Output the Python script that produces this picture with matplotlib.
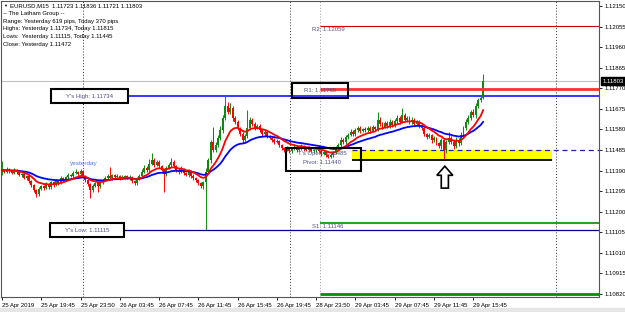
import numpy as np
import pandas as pd
import matplotlib
matplotlib.use("Agg")
import matplotlib.pyplot as plt
from matplotlib.patches import Rectangle, FancyArrow
from matplotlib.transforms import blended_transform_factory

plt.rcParams['font.family'] = ['Liberation Sans', 'DejaVu Sans']

# EURUSD M15, 25 Apr 15:45 -> 29 Apr 16:45
first_open = 1.11378
closes = [
    1.11392, 1.11383, 1.11397, 1.11387, 1.11378, 1.11392, 1.11383, 1.11369, 1.11374, 1.11355,
    1.11364, 1.11341, 1.11323, 1.11300, 1.11281, 1.11304, 1.11318, 1.11309, 1.11327, 1.11313,
    1.11337, 1.11323, 1.11341, 1.11332, 1.11355, 1.11346, 1.11360, 1.11369, 1.11364, 1.11378,
    1.11383, 1.11374, 1.11387, 1.11364, 1.11346, 1.11327, 1.11300, 1.11318, 1.11332, 1.11318,
    1.11337, 1.11346, 1.11355, 1.11364, 1.11355, 1.11369, 1.11360, 1.11364, 1.11355, 1.11360,
    1.11364, 1.11355, 1.11360, 1.11341, 1.11332, 1.11350, 1.11364, 1.11383, 1.11401, 1.11392,
    1.11420, 1.11438, 1.11415, 1.11429, 1.11410, 1.11392, 1.11374, 1.11401, 1.11415, 1.11429,
    1.11410, 1.11392, 1.11383, 1.11397, 1.11378, 1.11369, 1.11387, 1.11364, 1.11355, 1.11346,
    1.11332, 1.11318, 1.11337, 1.11383, 1.11438, 1.11521, 1.11484, 1.11507, 1.11540, 1.11577,
    1.11632, 1.11688, 1.11660, 1.11678, 1.11632, 1.11614, 1.11586, 1.11558, 1.11531, 1.11549,
    1.11586, 1.11623, 1.11605, 1.11586, 1.11595, 1.11577, 1.11558, 1.11568, 1.11549, 1.11540,
    1.11531, 1.11521, 1.11526, 1.11507, 1.11494, 1.11484, 1.11494, 1.11480, 1.11489, 1.11498,
    1.11484, 1.11494, 1.11503, 1.11489, 1.11484, 1.11494, 1.11480, 1.11484, 1.11485, 1.11480,
    1.11466, 1.11475, 1.11461, 1.11452, 1.11461, 1.11475, 1.11494, 1.11507, 1.11531, 1.11521,
    1.11544, 1.11554, 1.11568, 1.11558, 1.11577, 1.11586, 1.11572, 1.11581, 1.11577, 1.11586,
    1.11572, 1.11591, 1.11581, 1.11623, 1.11605, 1.11591, 1.11609, 1.11595, 1.11614, 1.11600,
    1.11618, 1.11632, 1.11614, 1.11646, 1.11623, 1.11632, 1.11614, 1.11623, 1.11605, 1.11614,
    1.11595, 1.11586, 1.11558, 1.11544, 1.11554, 1.11531, 1.11540, 1.11517, 1.11503, 1.11531,
    1.11484, 1.11521, 1.11540, 1.11521, 1.11503, 1.11531, 1.11517, 1.11554, 1.11586, 1.11614,
    1.11632, 1.11660, 1.11646, 1.11688, 1.11715, 1.11723, 1.11803,
]
# wick lengths in points above / below the body
upper_wick = [
    42, 5, 8, 4, 6, 9, 4, 6, 5, 8,
    6, 4, 5, 7, 3, 8, 6, 5, 9, 4,
    7, 5, 8, 6, 9, 5, 7, 10, 6, 8,
    12, 6, 9, 5, 7, 4, 6, 8, 5, 7,
    9, 6, 8, 8, 42, 7, 6, 9, 5, 8,
    7, 5, 9, 6, 4, 8, 10, 12, 15, 9,
    25, 33, 10, 12, 8, 6, 7, 10, 9, 18,
    8, 6, 9, 12, 7, 5, 9, 6, 8, 5,
    6, 4, 7, 20, 12, 10, 70, 15, 12, 20,
    15, 46, 20, 25, 12, 8, 10, 6, 8, 12,
    83, 15, 10, 8, 12, 9, 6, 10, 7, 5,
    6, 8, 9, 5, 7, 6, 8, 4, 6, 8,
    5, 7, 9, 6, 5, 8, 6, 7, 5, 9,
    6, 8, 5, 7, 9, 6, 10, 8, 12, 9,
    10, 8, 12, 7, 9, 10, 8, 7, 9, 11,
    8, 10, 7, 37, 12, 8, 10, 9, 12, 8,
    10, 15, 9, 32, 12, 10, 9, 12, 8, 10,
    8, 6, 7, 5, 9, 6, 8, 5, 7, 9,
    6, 10, 30, 10, 8, 12, 9, 14, 10, 12,
    15, 10, 12, 14, 10, 12, 33,
]
lower_wick = [
    8, 6, 5, 7, 4, 6, 8, 5, 7, 6,
    9, 7, 8, 10, 14, 8, 6, 9, 5, 7,
    6, 8, 5, 7, 6, 9, 5, 7, 6, 8,
    5, 7, 6, 9, 8, 10, 37, 8, 6, 28,
    10, 7, 6, 8, 5, 9, 6, 7, 8, 5,
    7, 6, 8, 9, 10, 7, 5, 8, 6, 9,
    7, 6, 8, 5, 9, 6, 84, 7, 6, 8,
    6, 9, 7, 5, 8, 6, 7, 9, 8, 10,
    8, 9, 12, 222, 10, 12, 8, 10, 7, 9,
    12, 8, 10, 9, 12, 8, 10, 9, 12, 8,
    10, 7, 9, 8, 6, 10, 8, 7, 9, 6,
    7, 8, 6, 9, 7, 8, 6, 9, 7, 5,
    8, 6, 7, 9, 5, 8, 6, 7, 9, 6,
    8, 5, 7, 6, 6, 8, 7, 6, 9, 8,
    7, 9, 6, 8, 10, 7, 9, 6, 8, 7,
    9, 6, 8, 10, 7, 9, 6, 8, 7, 9,
    8, 7, 9, 6, 10, 8, 7, 9, 6, 8,
    7, 9, 8, 10, 6, 12, 8, 10, 9, 12,
    39, 12, 10, 8, 12, 9, 14, 8, 10, 9,
    8, 10, 9, 12, 8, 10, 2,
]

time_labels = ["25 Apr 2019", "25 Apr 19:45", "25 Apr 23:50", "26 Apr 03:45", "26 Apr 07:45",
               "26 Apr 11:45", "26 Apr 15:45", "26 Apr 19:45", "28 Apr 23:50", "29 Apr 03:45",
               "29 Apr 07:45", "29 Apr 11:45", "29 Apr 15:45"]
price_ticks = [1.12150, 1.12055, 1.11960, 1.11865, 1.11770, 1.11675, 1.11580, 1.11485,
               1.11390, 1.11295, 1.11200, 1.11105, 1.11010, 1.10915, 1.10820]

y_high, y_low = 1.11734, 1.11115
r2, r1, s1, s2 = 1.12059, 1.11765, 1.11146, 1.10820
t_open, pivot = 1.11485, 1.11440
last_price = 1.11803

header = ["EURUSD,M15  1.11723 1.11836 1.11721 1.11803",
          "-- The Latham Group --",
          "Range: Yesterday 619 pips, Today 370 pips",
          "Highs: Yesterday 1.11734, Today 1.11815",
          "Lows:  Yesterday 1.11115, Today 1.11445",
          "Close: Yesterday 1.11472"]

closes = np.array(closes)
opens = np.r_[first_open, closes[:-1]]
highs = np.maximum(opens, closes) + np.array(upper_wick) * 1e-5
lows = np.minimum(opens, closes) - np.array(lower_wick) * 1e-5
idx = np.arange(len(closes))

fast = pd.Series(closes).ewm(span=11, adjust=False).mean()
slow = pd.Series(closes).ewm(span=27, adjust=False).mean()

fig = plt.figure(figsize=(6.25, 3.12), dpi=100)
ax = fig.add_axes([1 / 625, 15 / 312, 598 / 625, 296 / 312])
ax.set_xlim(-0.4, 243.2)
ax.set_ylim(1.10806, 1.12173)
FS = 4.3

# candles
up = closes >= opens
col = np.where(up, '#0f8a0f', '#ff0000')
ax.vlines(idx, lows, highs, colors=col, lw=0.7, zorder=3)
ax.bar(idx, np.maximum(np.abs(closes - opens), 1.5e-5), bottom=np.minimum(opens, closes),
       width=0.8, color=col, zorder=3)
ax.plot(idx, slow, color='#0000ff', lw=1.3, zorder=4)
ax.plot(idx, fast, color='#ff0000', lw=1.3, zorder=4)

end = 243.2
day_start = 129.5
# levels
ax.axhline(last_price, color='#c0c0c0', lw=0.8, zorder=1)
ax.hlines(y_high, 51.3, end, color='#0000ff', lw=1.1, zorder=2)
ax.hlines(y_low, 49.7, end, color='#000080', lw=0.9, zorder=2)
ax.hlines(r2, day_start, end, color='#d00000', lw=0.8, zorder=2)
ax.hlines(r1, day_start, end, color='#ff3030', lw=2.0, zorder=5)
ax.hlines(s1, day_start, end, color='#009000', lw=1.2, zorder=2)
ax.hlines(s2, day_start, end, color='#009000', lw=2.0, zorder=2)
ax.add_patch(Rectangle((142.5, pivot), 224.0 - 142.5, t_open - pivot, color='#ffff00', lw=0, zorder=2))
ax.hlines(pivot, 142.5, 224.0, color='black', lw=1.3, zorder=2)
ax.hlines(t_open, 142.5, end, color='#2020b0', lw=0.9, linestyles=(0, (4, 3)), zorder=2)

for xv, c in [(33, '#333333'), (117.2, '#333333'), (129.5, '#999999'), (225.7, '#333333')]:
    ax.axvline(xv, color=c, lw=0.7, ls=(0, (1, 2)), zorder=1)

# labelled boxes
def box(x0, x1, y0, y1, fill):
    ax.add_patch(Rectangle((x0, y0), x1 - x0, y1 - y0, facecolor='white' if fill else 'none',
                           edgecolor='black', lw=1.5, zorder=6 if not fill else 4.5))

lab = '#50508c'
box(20.0, 51.3, y_high - 0.00034, y_high + 0.00034, True)
ax.text(35.6, y_high, "Y's High: 1.11734", fontsize=FS, color=lab, ha='center', va='center', zorder=7)
box(19.5, 49.7, y_low - 0.00032, y_low + 0.00032, True)
ax.text(34.6, y_low, "Y's Low: 1.11115", fontsize=FS, color=lab, ha='center', va='center', zorder=7)
box(118.1, 140.9, r1 - 0.00040, r1 + 0.00028, False)
ax.text(129.5, r1 - 0.00007, "R1: 1.11765", fontsize=FS, color=lab, ha='center', va='center', zorder=7)
box(115.7, 146.2, 1.11388, 1.11494, False)
ax.text(130.5, 1.11471, "T's Open: 1.11485", fontsize=FS, color=lab, ha='center', va='center', zorder=7)
ax.text(130.5, 1.11429, "Pivot: 1.11440", fontsize=FS, color=lab, ha='center', va='center', zorder=7)
ax.text(132.8, r2 - 0.00005, "R2: 1.12059", fontsize=FS, color=lab, ha='center', va='top', zorder=7)
ax.text(132.8, s1 - 0.00005, "S1: 1.11146", fontsize=FS, color=lab, ha='center', va='top', zorder=7)
ax.text(33.4, 1.11424, "yesterday", fontsize=FS + 0.3, color='#4a78e0', ha='center', va='center', zorder=7)

ax.add_patch(FancyArrow(180.4, 1.11309, 0, 1.11410 - 1.11309, width=2.9, head_width=6.5,
                        head_length=0.00042, length_includes_head=True,
                        facecolor='white', edgecolor='black', lw=1.2, zorder=7))

# axes
ax.yaxis.tick_right()
ax.set_yticks(price_ticks)
ax.set_yticklabels([f"{p:.5f}" for p in price_ticks])
ax.set_xticks(np.arange(0, 16 * len(time_labels), 16))
ax.set_xticklabels(time_labels, ha='left')
ax.tick_params(axis='both', labelsize=FS, length=2.5, width=0.6, pad=1.5, colors='black')
for s in ax.spines.values():
    s.set_color('#555555')
    s.set_linewidth(0.8)

tr = blended_transform_factory(ax.transAxes, ax.transData)
ax.text(1.006, last_price, f"{last_price:.5f}", transform=tr, fontsize=FS, color='white',
        ha='left', va='center', bbox=dict(facecolor='black', edgecolor='black', pad=0.9), zorder=8,
        clip_on=False)

# header block
fig.text(3 / 625, 1 - 6 / 312, "\u25bc", fontsize=3, va='center')
fig.text(10 / 625, 1 - 6 / 312, header[0], fontsize=FS, va='center')
for i, line in enumerate(header[1:]):
    fig.text(3 / 625, 1 - (13.7 + 7.6 * i) / 312, line, fontsize=FS, va='center')

fig.patches.append(Rectangle((0, 0), 1, 4 / 312, transform=fig.transFigure, color='#e6e6e6', zorder=0))

fig.savefig('out.png', dpi=100)
